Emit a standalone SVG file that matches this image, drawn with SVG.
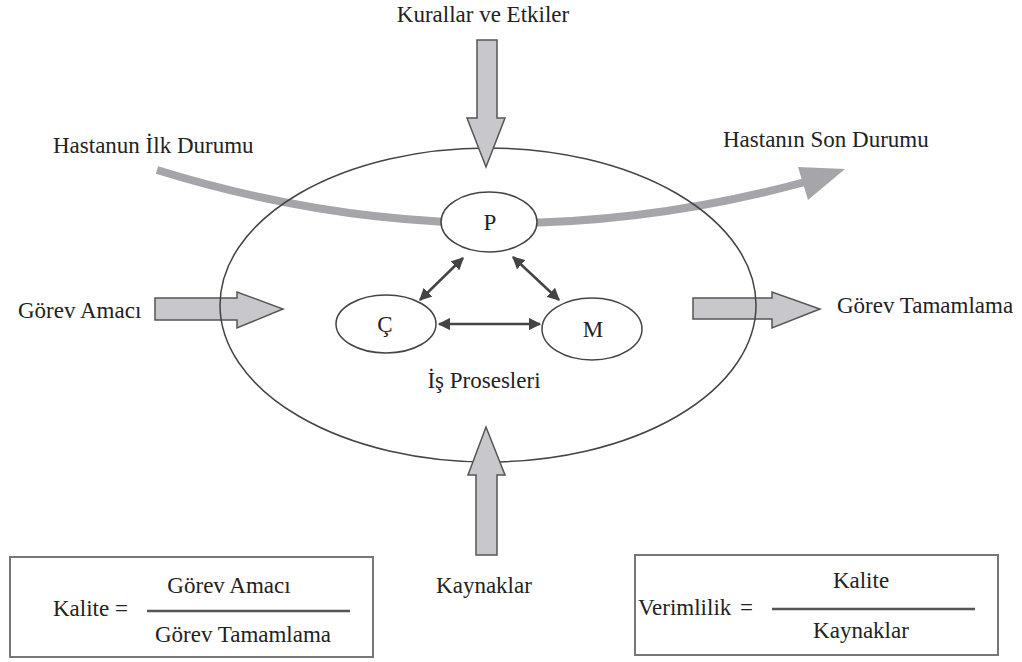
<svg xmlns="http://www.w3.org/2000/svg" width="1022" height="662" viewBox="0 0 1022 662">
  <style>
    .lbl { font-family: "Liberation Serif", "Times New Roman", serif; font-size: 23px; fill: #222; }
    .mid { text-anchor: middle; }
    .block { fill: #c8c8cc; stroke: #555; stroke-width: 1.5; stroke-linejoin: miter; }
    .node { fill: #fff; stroke: #444; stroke-width: 1.5; }
    .link { stroke: #444; stroke-width: 2.5; fill: none; marker-start: url(#head); marker-end: url(#head); }
    .box { fill: #fff; stroke: #777; stroke-width: 2; }
    .bar { stroke: #555; stroke-width: 2.5; }
  </style>
  <defs>
    <marker id="head" viewBox="0 0 10 10" refX="9" refY="5" markerWidth="5" markerHeight="5" orient="auto-start-reverse" markerUnits="strokeWidth">
      <path d="M0,0 L10,5 L0,10 z" fill="#444"/>
    </marker>
  </defs>

  <rect width="1022" height="662" fill="#fff"/>

  <!-- side inputs/outputs sit below the process boundary -->
  <g id="arrow-gorev-amaci">
    <polygon class="block" points="155,298 237,298 237,292 283,309 237,328 237,320 155,320"/>
  </g>
  <g id="arrow-gorev-tamamlama">
    <polygon class="block" points="693,298 772,298 772,292 820,309 772,328 772,319 693,319"/>
  </g>

  <!-- patient state flow through the process -->
  <g id="patient-flow">
    <path d="M157,170 Q480,270 805,182" fill="none" stroke="#a6a6aa" stroke-width="8"/>
    <polygon points="845,169 798,167 808,200" fill="#a6a6aa"/>
  </g>

  <!-- process boundary -->
  <g id="process">
    <ellipse cx="488" cy="305" rx="268" ry="157" fill="none" stroke="#444" stroke-width="1.5"/>
  </g>

  <g id="arrow-kurallar">
    <polygon class="block" points="477,40 497,40 497,118 505,118 486,167 467,118 477,118"/>
  </g>
  <g id="arrow-kaynaklar">
    <polygon class="block" points="476,555 497,555 497,475 505,475 486,427 468,475 476,475"/>
  </g>

  <!-- P, Ç, M nodes -->
  <g id="node-p">
    <ellipse class="node" cx="489" cy="222" rx="48" ry="30"/>
    <text class="lbl mid" x="490" y="230" font-size="21">P</text>
  </g>
  <g id="node-c">
    <ellipse class="node" cx="386" cy="324" rx="50" ry="29"/>
    <text class="lbl mid" x="385" y="332" font-size="21">Ç</text>
  </g>
  <g id="node-m">
    <ellipse class="node" cx="592" cy="329" rx="50" ry="31"/>
    <text class="lbl mid" x="593" y="337" font-size="21">M</text>
  </g>

  <g id="connectors">
    <line class="link" x1="463" y1="258" x2="420" y2="300"/>
    <line class="link" x1="513" y1="257" x2="559" y2="300"/>
    <line class="link" x1="439" y1="324" x2="540" y2="324"/>
  </g>

  <!-- labels -->
  <g id="labels">
    <text class="lbl mid" x="483" y="22">Kurallar ve Etkiler</text>
    <text class="lbl" x="53" y="153">Hastanun İlk Durumu</text>
    <text class="lbl" x="723" y="147">Hastanın Son Durumu</text>
    <text class="lbl" x="18" y="318">Görev Amacı</text>
    <text class="lbl" x="837" y="313">Görev Tamamlama</text>
    <text class="lbl mid" x="484" y="388">İş Prosesleri</text>
    <text class="lbl mid" x="484" y="593">Kaynaklar</text>
  </g>

  <!-- quality formula -->
  <g id="formula-kalite">
    <rect class="box" x="10" y="557" width="363" height="100"/>
    <text class="lbl" x="53" y="616">Kalite =</text>
    <text class="lbl mid" x="229" y="593">Görev Amacı</text>
    <line class="bar" x1="147" y1="611" x2="350" y2="611"/>
    <text class="lbl mid" x="243" y="642">Görev Tamamlama</text>
  </g>

  <!-- efficiency formula -->
  <g id="formula-verimlilik">
    <rect class="box" x="635" y="555" width="363" height="100"/>
    <text class="lbl" x="638" y="615">Verimlilik</text>
    <text class="lbl" x="740" y="615">=</text>
    <line class="bar" x1="772" y1="609" x2="975" y2="609"/>
    <text class="lbl mid" x="861" y="588">Kalite</text>
    <text class="lbl mid" x="861" y="638">Kaynaklar</text>
  </g>
</svg>
